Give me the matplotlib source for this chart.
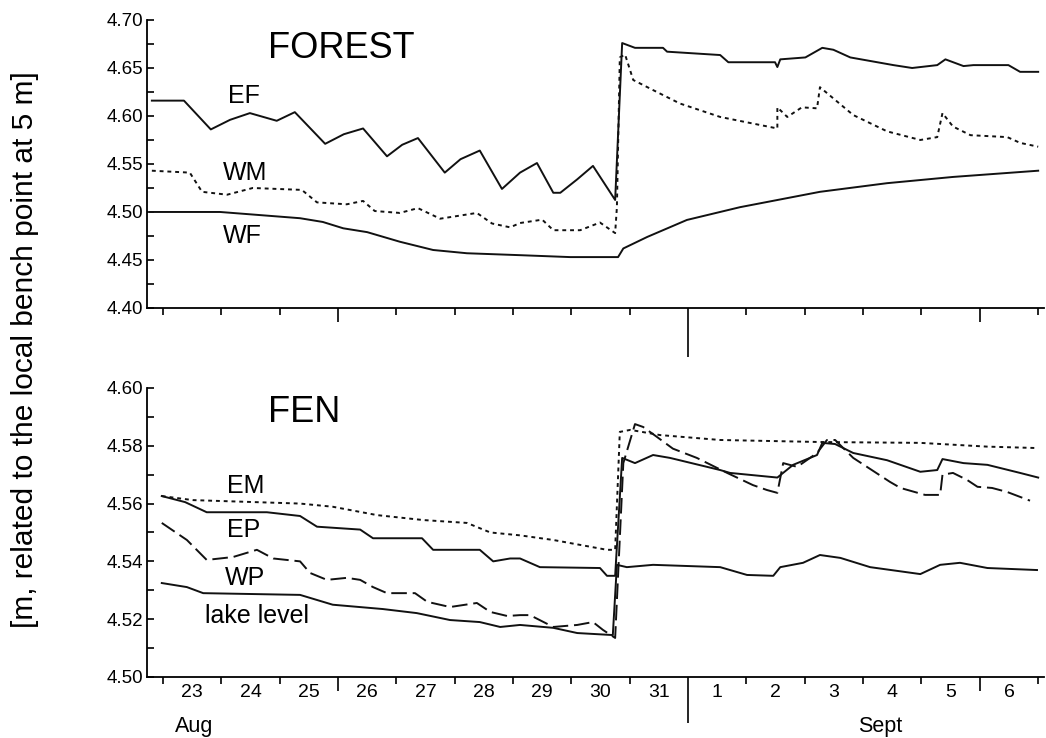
import numpy as np
import matplotlib
matplotlib.use("Agg")
from matplotlib import pyplot as plt
from matplotlib.ticker import MultipleLocator, FormatStrFormatter

plt.rcParams['font.family'] = ['Liberation Sans', 'DejaVu Sans']

# x values are days counted from Aug 23, 00:00
DAY_LABELS = ['23', '24', '25', '26', '27', '28', '29', '30', '31',
              '1', '2', '3', '4', '5', '6']

# FOREST panel
EF_x = [-0.19, 0.36, 0.82, 1.15, 1.49, 1.95, 2.26, 2.78, 3.10, 3.43, 3.84, 4.10, 4.37, 4.83, 5.10,
        5.43, 5.81, 6.12, 6.41, 6.69, 6.81, 7.10, 7.37, 7.75, 7.87, 8.09, 8.57, 8.64, 9.55, 9.69,
        10.49, 10.53, 10.58, 11.01, 11.30, 11.49, 11.78, 12.52, 12.84, 13.27, 13.41, 13.72, 13.89,
        14.49, 14.69, 15.00]
EF_y = [4.616, 4.616, 4.586, 4.596, 4.603, 4.595, 4.604, 4.571, 4.581, 4.587, 4.558, 4.570, 4.577,
        4.541, 4.555, 4.564, 4.524, 4.541, 4.551, 4.520, 4.520, 4.534, 4.548, 4.5125, 4.676, 4.671,
        4.671, 4.667, 4.6635, 4.656, 4.656, 4.651, 4.659, 4.661, 4.671, 4.669, 4.661, 4.653, 4.650,
        4.653, 4.659, 4.652, 4.653, 4.653, 4.646, 4.646]

WM_x = [-0.19, 0.46, 0.67, 1.10, 1.54, 2.38, 2.64, 3.15, 3.43, 3.63, 4.06, 4.37, 4.75, 5.38, 5.64,
        5.95, 6.12, 6.50, 6.69, 7.15, 7.49, 7.75, 7.78, 7.83, 7.92, 8.06, 8.40, 8.86, 9.55, 10.53,
        10.53, 10.70, 10.95, 11.21, 11.26, 11.83, 12.41, 12.98, 13.27, 13.36, 13.54, 13.84, 14.47,
        14.69, 15.00]
WM_y = [4.543, 4.541, 4.521, 4.518, 4.525, 4.523, 4.510, 4.508, 4.5115, 4.501, 4.499, 4.504, 4.493,
        4.499, 4.488, 4.484, 4.4885, 4.492, 4.481, 4.481, 4.489, 4.478, 4.505, 4.661, 4.664, 4.6375,
        4.627, 4.613, 4.599, 4.587, 4.609, 4.599, 4.609, 4.608, 4.630, 4.601, 4.584, 4.575, 4.578,
        4.603, 4.589, 4.580, 4.578, 4.572, 4.568]

WF_x = [-0.22, 0.98, 2.35, 2.74, 3.09, 3.50, 4.06, 4.63, 5.21, 6.12, 6.98, 7.80, 7.89, 8.30, 8.98,
        9.89, 11.26, 12.41, 13.54, 15.00]
WF_y = [4.500, 4.500, 4.4935, 4.4896, 4.483, 4.479, 4.469, 4.4604, 4.457, 4.455, 4.453, 4.453,
        4.462, 4.474, 4.4917, 4.505, 4.521, 4.530, 4.5365, 4.543]

# FEN panel
EM_x = [-0.02, 0.51, 2.35, 2.91, 3.67, 4.46, 5.21, 5.61, 6.12, 6.69, 7.61, 7.75, 7.83, 8.01, 8.52,
        9.55, 11.26, 12.98, 14.13, 15.00]
EM_y = [4.5626, 4.5612, 4.560, 4.5589, 4.556, 4.5543, 4.5533, 4.550, 4.549, 4.5474, 4.544, 4.544,
        4.5848, 4.5855, 4.5837, 4.582, 4.5813, 4.581, 4.5797, 4.5792]

EP_x = [-0.02, 0.38, 0.75, 1.78, 2.35, 2.64, 3.38, 3.60, 4.44, 4.63, 5.43, 5.66, 5.95, 6.12, 6.46,
        7.49, 7.61, 7.75, 7.87, 8.09, 8.40, 8.69, 9.55, 9.72, 10.53, 10.80, 11.21, 11.30, 11.52,
        11.83, 12.41, 12.98, 13.27, 13.36, 13.72, 14.13, 14.69, 15.00]
EP_y = [4.5626, 4.5605, 4.557, 4.557, 4.5557, 4.552, 4.551, 4.548, 4.548, 4.544, 4.544, 4.540,
        4.541, 4.541, 4.538, 4.5377, 4.535, 4.535, 4.5758, 4.574, 4.5768, 4.5758, 4.5716, 4.5706,
        4.569, 4.5734, 4.5768, 4.581, 4.5806, 4.5775, 4.575, 4.571, 4.5716, 4.5754, 4.574, 4.5734,
        4.5706, 4.569]

WP_x = [-0.02, 0.41, 0.75, 1.20, 1.61, 1.89, 2.35, 2.52, 2.81, 3.15, 3.38, 3.60, 3.84, 4.32, 4.53,
        4.92, 5.38, 5.61, 5.90, 6.12, 6.29, 6.69, 7.10, 7.37, 7.54, 7.75, 7.89, 8.09, 8.23, 8.47,
        8.74, 9.15, 9.67, 10.11, 10.35, 10.53, 10.63, 10.87, 11.21, 11.38, 11.52, 11.83, 12.46,
        12.64, 13.06, 13.32, 13.36, 13.54, 13.78, 13.96, 14.21, 14.47, 14.86]
WP_y = [4.5533, 4.5474, 4.5405, 4.5415, 4.544, 4.541, 4.540, 4.536, 4.5336, 4.5343, 4.5336, 4.5311,
        4.529, 4.529, 4.526, 4.5242, 4.5256, 4.5225, 4.5211, 4.5214, 4.5214, 4.5173, 4.518, 4.519,
        4.5163, 4.5135, 4.574, 4.5875, 4.5865, 4.583, 4.579, 4.5758, 4.5706, 4.5664, 4.5647, 4.5637,
        4.574, 4.5727, 4.5775, 4.582, 4.582, 4.5758, 4.5675, 4.5654, 4.563, 4.563, 4.570, 4.5706,
        4.5682, 4.5658, 4.5654, 4.564, 4.561]

LAKE_x = [-0.02, 0.41, 0.69, 2.35, 2.91, 3.77, 4.35, 4.92, 5.43, 5.78, 6.12, 6.69, 7.10, 7.71, 7.78,
          7.95, 8.40, 9.55, 10.01, 10.46, 10.58, 10.97, 11.26, 11.61, 12.12, 12.98, 13.32, 13.66,
          14.13, 14.98]
LAKE_y = [4.5325, 4.5311, 4.529, 4.5284, 4.525, 4.5235, 4.5221, 4.5197, 4.519, 4.5173, 4.518, 4.517,
          4.5152, 4.5145, 4.5388, 4.538, 4.5388, 4.538, 4.5353, 4.535, 4.538, 4.5395, 4.5422, 4.5412,
          4.538, 4.5356, 4.5388, 4.5395, 4.5377, 4.537]

LINE_COLOR = '#111111'
LW = 1.4
DOTTED = (0, (2.0, 2.0))
LONG_DASH = (0, (8, 3))

fig = plt.figure(figsize=(10.46, 7.38), dpi=100)
ax_top = fig.add_axes([0.1405, 0.5827, 0.8576, 0.3902])
ax_bot = fig.add_axes([0.1405, 0.0827, 0.8576, 0.3916])

XMIN, XMAX = -0.274, 15.10
days = np.arange(len(DAY_LABELS) + 1)


def style_axes(ax, ymin, ymax, ystep, long_len, show_labels):
    for side in ['top', 'right']:
        ax.spines[side].set_visible(False)
    for side in ['left', 'bottom']:
        ax.spines[side].set_linewidth(1.3)
    ax.set_xlim(XMIN, XMAX)
    ax.set_ylim(ymin, ymax)
    ax.yaxis.set_major_locator(MultipleLocator(ystep))
    ax.yaxis.set_minor_locator(MultipleLocator(ystep / 2))
    ax.yaxis.set_major_formatter(FormatStrFormatter('%.2f'))
    ax.tick_params(axis='y', which='both', direction='in', length=5, width=1.2,
                   labelsize=13.5, pad=3)
    ax.set_xticks(days)
    ax.set_xticklabels([])
    ax.tick_params(axis='x', which='major', direction='out', length=5, width=1.2)
    # longer marks at Aug 26, Sep 1 (month divider) and Sep 6
    ticks = ax.xaxis.get_major_ticks()
    ticks[3].tick1line.set_markersize(10)
    ticks[14].tick1line.set_markersize(10)
    ticks[9].tick1line.set_markersize(long_len)
    if show_labels:
        ax.set_xticks(days[:-1] + 0.5, minor=True)
        ax.set_xticklabels(DAY_LABELS, minor=True)
        ax.tick_params(axis='x', which='minor', length=0, labelsize=14, pad=5)
    else:
        ax.tick_params(axis='x', which='minor', length=0)


style_axes(ax_top, 4.40, 4.70, 0.05, 35, False)
style_axes(ax_bot, 4.50, 4.60, 0.02, 33, True)

# FOREST
ax_top.plot(EF_x, EF_y, color=LINE_COLOR, lw=LW)
ax_top.plot(WM_x, WM_y, color=LINE_COLOR, lw=LW, linestyle=DOTTED)
ax_top.plot(WF_x, WF_y, color=LINE_COLOR, lw=LW)
ax_top.text(1.80, 4.660, 'FOREST', fontsize=26, va='baseline')
ax_top.text(1.11, 4.6135, 'EF', fontsize=18, va='baseline')
ax_top.text(1.03, 4.5333, 'WM', fontsize=18, va='baseline')
ax_top.text(1.03, 4.4677, 'WF', fontsize=18, va='baseline')

# FEN
ax_bot.plot(EM_x, EM_y, color=LINE_COLOR, lw=LW, linestyle=DOTTED)
ax_bot.plot(EP_x, EP_y, color=LINE_COLOR, lw=LW)
ax_bot.plot(WP_x, WP_y, color=LINE_COLOR, lw=LW, linestyle=LONG_DASH)
ax_bot.plot(LAKE_x, LAKE_y, color=LINE_COLOR, lw=LW)
ax_bot.text(1.80, 4.5882, 'FEN', fontsize=26, va='baseline')
ax_bot.text(1.10, 4.5637, 'EM', fontsize=18, va='baseline')
ax_bot.text(1.10, 4.5484, 'EP', fontsize=18, va='baseline')
ax_bot.text(1.06, 4.5318, 'WP', fontsize=18, va='baseline')
ax_bot.text(0.72, 4.5187, 'lake level', fontsize=18, va='baseline')

# month names under the day labels
ax_bot.text(0.53, -0.17, 'Aug', fontsize=15.5, ha='center', va='center',
            transform=ax_bot.get_xaxis_transform())
ax_bot.text(12.29, -0.17, 'Sept', fontsize=15.5, ha='center', va='center',
            transform=ax_bot.get_xaxis_transform())

fig.text(25 / 1046, 1 - 350 / 738, '[m, related to the local bench point at 5 m]',
         rotation=90, fontsize=21.5, ha='center', va='center')

fig.savefig('out.png', dpi=100)
